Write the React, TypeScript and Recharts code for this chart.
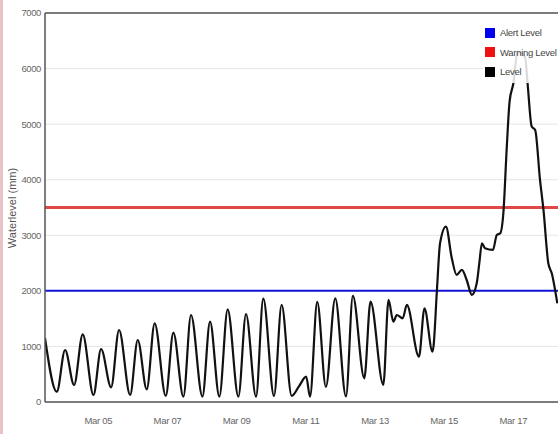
import { LineChart, Line, XAxis, YAxis, CartesianGrid, ReferenceLine } from 'recharts';

// fractional day of March
const days = [
    3.46, 3.8, 4.04, 4.3, 4.55, 4.86, 5.08, 5.37, 5.6, 5.92,
    6.14, 6.4, 6.63, 6.95, 7.17, 7.46, 7.68, 8.01, 8.23, 8.5,
    8.74, 9.05, 9.27, 9.56, 9.77, 10.08, 10.3, 10.59, 10.8, 11.01,
    11.12, 11.33, 11.58, 11.85, 12.16, 12.36, 12.69, 12.87, 13.24, 13.39,
    13.53, 13.63, 13.8, 13.92, 14.27, 14.43, 14.66, 14.69, 14.79, 14.88,
    15.05, 15.22, 15.36, 15.51, 15.65, 15.8, 15.94, 16.02, 16.09, 16.18,
    16.41, 16.52, 16.62, 16.71, 16.81, 16.89, 17.0, 17.12, 17.34, 17.41,
    17.53, 17.63, 17.77, 17.87, 18.01, 18.11, 18.27,
];
const levels = [
    1150, 185, 936, 306, 1218, 126, 954, 264, 1296, 126,
    1116, 228, 1416, 108, 1248, 96, 1566, 96, 1446, 96,
    1668, 96, 1584, 96, 1860, 108, 1750, 110, 280, 456,
    96, 1800, 270, 1866, 100, 1908, 426, 1806, 306, 1836,
    1446, 1566, 1506, 1746, 816, 1686, 906, 996, 2016, 2856,
    3156, 2586, 2286, 2376, 2196, 1926, 2136, 2526, 2856, 2766,
    2736, 3006, 3036, 3396, 4596, 5406, 5736, 6300, 6200, 5736,
    4956, 4896, 3996, 3456, 2496, 2316, 1776,
];
const dayTicks = [5, 7, 9, 11, 13, 15, 17];
const yTicks = [0, 1000, 2000, 3000, 4000, 5000, 6000, 7000];
const alertLevel = 2000;
const warningLevel = 3500;
const legendItems = [
    { name: 'Alert Level', color: '#0000ee' },
    { name: 'Warning Level', color: '#ee1111' },
    { name: 'Level', color: '#000000' },
];

const data = days.map((d, i) => ({ day: d, level: levels[i] }));
const font = '"Liberation Sans", Arial, sans-serif';

function YLabel() {
    return (
        <text x={13} y={208} transform="rotate(-90 13 208)" textAnchor="middle"
            fontSize={11} fill="#555" fontFamily={font} dominantBaseline="middle">
            Waterlevel (mm)
        </text>
    );
}

export default function App() {
    return (
        <div style={{ position: 'absolute', left: 0, top: 0, width: 558, height: 434, background: '#fff', overflow: 'hidden' }}>
            <div style={{ position: 'absolute', left: 0, top: 0, width: 3, height: 434, background: '#e8c4c6' }} />
            <LineChart width={558} height={434} data={data} margin={{ top: 13, right: 0, left: 0, bottom: 0 }}>
                <CartesianGrid horizontal vertical={false} stroke="#e6e6e6" />
                <XAxis dataKey="day" type="number" domain={[3.459, 18.29]} ticks={dayTicks} height={32}
                    tickFormatter={(d: number) => `Mar ${String(d).padStart(2, '0')}`}
                    tick={{ fontSize: 9.5, fill: '#666', fontFamily: font, letterSpacing: -0.3, dy: 7 }} tickLine={false}
                    axisLine={{ stroke: '#555', strokeWidth: 1.5 }} allowDataOverflow />
                <YAxis domain={[0, 7000]} ticks={yTicks} width={45} tickLine={false}
                    tick={{ fontSize: 9.5, fill: '#666', fontFamily: font, dx: 4, letterSpacing: -0.4 }}
                    axisLine={{ stroke: '#555', strokeWidth: 1.5 }} label={<YLabel />} />
                <ReferenceLine y={7000} stroke="#555" strokeWidth={1.5} />
                <ReferenceLine y={warningLevel} stroke="#e04848" strokeWidth={3} />
                <ReferenceLine y={alertLevel} stroke="#1414d8" strokeWidth={2} />
                <Line type="monotone" dataKey="level" stroke="#111" strokeWidth={2.2} dot={false} isAnimationActive={false} />
            </LineChart>
            <div style={{ position: 'absolute', left: 483, top: 22, fontFamily: font, fontSize: 9.5, letterSpacing: -0.3, color: '#444', background: 'rgba(255,255,255,0.85)', padding: '1px 2px', whiteSpace: 'nowrap' }}>
                {legendItems.map(it => (
                    <div key={it.name} style={{ display: 'flex', alignItems: 'center', height: 19.5 }}>
                        <span style={{ width: 10, height: 10, background: it.color, marginRight: 5, display: 'inline-block' }} />
                        {it.name}
                    </div>
                ))}
            </div>
        </div>
    );
}
